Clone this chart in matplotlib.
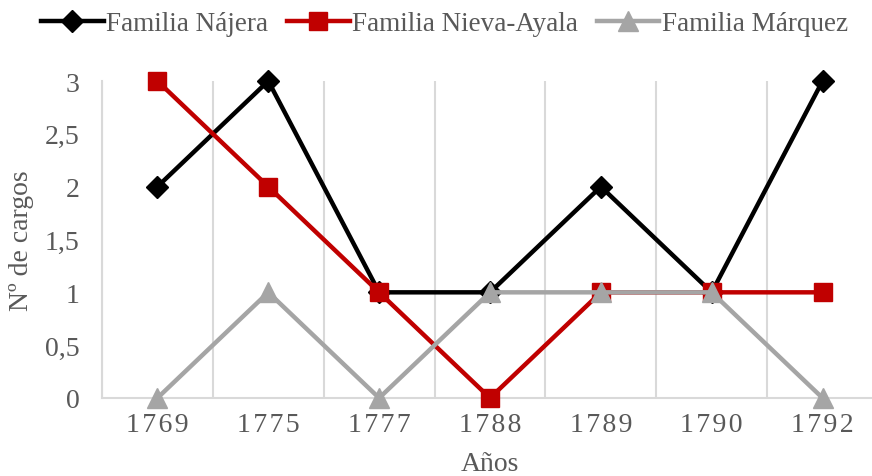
import matplotlib
matplotlib.use("Agg")
import matplotlib.pyplot as plt
import numpy as np

years = ["1769", "1775", "1777", "1788", "1789", "1790", "1792"]
najera = [2, 3, 1, 1, 2, 1, 3]
nieva_ayala = [3, 2, 1, 0, 1, 1, 1]
marquez = [0, 1, 0, 1, 1, 1, 0]
yticks = [0, 0.5, 1, 1.5, 2, 2.5, 3]
ytick_labels = ["0", "0,5", "1", "1,5", "2", "2,5", "3"]

plt.rcParams['font.family'] = ['Liberation Serif', 'DejaVu Serif']
txt = '#595959'
grid = '#D9D9D9'

fig = plt.figure(figsize=(8.72, 4.77), dpi=100)
ax = fig.add_axes([102/872, 78/477, 776/872, 317/477])

x = np.arange(len(years))
lw = 3.2
ax.plot(x, najera, color='#000000', lw=lw, marker='D', ms=11.5, label='Familia Nájera', clip_on=False, zorder=3)
ax.plot(x, nieva_ayala, color='#C00000', lw=lw, marker='s', ms=13, label='Familia Nieva-Ayala', clip_on=False, zorder=4)
ax.plot(x, marquez, color='#A5A5A5', lw=lw, marker='^', ms=15, label='Familia Márquez', clip_on=False, zorder=5)

ax.set_xlim(-0.5, len(years) - 0.5)
ax.set_ylim(0, 3)
ax.set_xticks(x)
ax.set_xticklabels(['\u200a'.join(y) for y in years], fontsize=20, color=txt)
ax.set_xticks(np.arange(len(years)) - 0.5, minor=True)
ax.grid(True, which='minor', axis='x', color=grid, lw=1.5)
ax.set_yticks(yticks)
ax.set_yticklabels(ytick_labels, fontsize=20, color=txt)
ax.tick_params(axis='both', which='both', length=0)
ax.tick_params(axis='y', pad=16)
ax.tick_params(axis='x', pad=10)
for s in ['top', 'right']:
    ax.spines[s].set_visible(False)
for s in ['left', 'bottom']:
    ax.spines[s].set_color(grid)
    ax.spines[s].set_linewidth(1.5)

ax.set_ylabel('Nº de cargos', fontsize=20, color=txt, labelpad=8)
ax.set_xlabel('Años', fontsize=20, color=txt, labelpad=10)

fig.legend(loc='upper center', bbox_to_anchor=(0.51, 1.025), ncol=3, frameon=False,
           fontsize=19.5, labelcolor=txt, handlelength=2.3, handletextpad=0.1,
           columnspacing=0.7)

fig.savefig('out.png', dpi=100)
